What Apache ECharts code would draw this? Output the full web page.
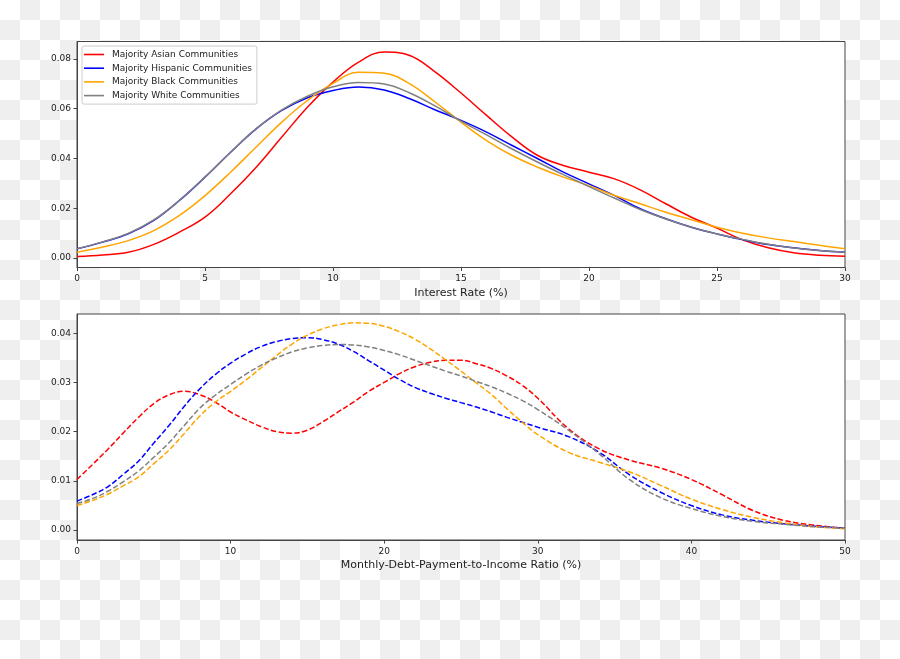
<!DOCTYPE html>
<html>
<head>
<meta charset="utf-8">
<script src="https://cdn.jsdelivr.net/npm/echarts@6/dist/echarts.min.js"></script>
<style>
  html, body { margin: 0; padding: 0; }
  body {
    width: 900px; height: 659px;
    background: repeating-conic-gradient(#efefef 0 25%, #ffffff 0 50%) 0 0 / 40px 40px;
  }
  #chart { width: 900px; height: 659px; }
</style>
</head>
<body>
<div id="chart"></div>
<script>
// ---- Data ----
const seriesNames = ['Majority Asian Communities', 'Majority Hispanic Communities', 'Majority Black Communities', 'Majority White Communities'];
const seriesColors = ['#ff0000', '#0000ff', '#ffa500', '#808080'];

const topTitle = 'Interest Rate (%)';
const bottomTitle = 'Monthly-Debt-Payment-to-Income Ratio (%)';

const topYTicks = [0, 0.02, 0.04, 0.06, 0.08];
const bottomYTicks = [0, 0.01, 0.02, 0.03, 0.04];
const topXTicks = [0, 5, 10, 15, 20, 25, 30];
const bottomXTicks = [0, 10, 20, 30, 40, 50];

const xTop = [0,1,2,3,4,5,6,7,8,9,10,11,12,13,14,15,16,17,18,19,20,21,22,23,24,25,26,27,28,29,30];
const topAsian    = [0.0006,0.0012,0.0023,0.0055,0.0104,0.0164,0.0258,0.0365,0.0486,0.0606,0.0707,0.0787,0.0828,0.0814,0.0747,0.0663,0.0573,0.0486,0.0412,0.0372,0.0345,0.0318,0.0274,0.0218,0.0164,0.0120,0.0073,0.0041,0.0021,0.0011,0.0007];
const topHispanic = [0.0037,0.0064,0.0097,0.0151,0.0231,0.0325,0.0425,0.0519,0.0593,0.0644,0.0673,0.0687,0.0675,0.0640,0.0595,0.0553,0.0506,0.0452,0.0399,0.0345,0.0298,0.0251,0.0198,0.0158,0.0124,0.0097,0.0074,0.0054,0.0041,0.0030,0.0023];
const topBlack    = [0.0023,0.0044,0.0070,0.0110,0.0171,0.0251,0.0345,0.0446,0.0546,0.0633,0.0702,0.0746,0.0742,0.0700,0.0626,0.0546,0.0472,0.0412,0.0365,0.0325,0.0291,0.0251,0.0218,0.0184,0.0154,0.0124,0.0100,0.0081,0.0066,0.0051,0.0037];
const topWhite    = [0.0037,0.0065,0.0099,0.0153,0.0232,0.0325,0.0425,0.0520,0.0595,0.0650,0.0688,0.0705,0.0699,0.0663,0.0610,0.0550,0.0495,0.0438,0.0385,0.0335,0.0287,0.0240,0.0195,0.0157,0.0124,0.0097,0.0075,0.0055,0.0040,0.0030,0.0023];

const xBottom = [0,1,2,3,4,5,6,7,8,9,10,11,12,13,14,15,16,17,18,19,20,21,22,23,24,25,26,27,28,29,30,32,34,36,38,40,42,44,46,48,50];
const bottomAsian    = [0.0103,0.0133,0.0164,0.0197,0.0229,0.0257,0.0275,0.0282,0.0275,0.0260,0.0240,0.0224,0.0210,0.0200,0.0197,0.0203,0.0220,0.0240,0.0260,0.0282,0.0300,0.0318,0.0332,0.0341,0.0345,0.0345,0.0338,0.0328,0.0313,0.0294,0.0268,0.0206,0.0165,0.0142,0.0126,0.0103,0.0072,0.0040,0.0020,0.0010,0.0004];
const bottomHispanic = [0.0059,0.0072,0.0088,0.0113,0.0140,0.0177,0.0213,0.0252,0.0287,0.0316,0.0339,0.0358,0.0373,0.0383,0.0389,0.0391,0.0387,0.0378,0.0363,0.0344,0.0325,0.0306,0.0290,0.0278,0.0268,0.0259,0.0250,0.0240,0.0229,0.0219,0.0209,0.0190,0.0158,0.0112,0.0077,0.0050,0.0031,0.0020,0.0013,0.0008,0.0004];
const bottomBlack    = [0.0050,0.0060,0.0073,0.0090,0.0108,0.0135,0.0163,0.0197,0.0232,0.0260,0.0282,0.0305,0.0330,0.0355,0.0378,0.0396,0.0409,0.0417,0.0421,0.0420,0.0414,0.0403,0.0388,0.0368,0.0346,0.0323,0.0299,0.0275,0.0246,0.0219,0.0194,0.0158,0.0138,0.0118,0.0091,0.0063,0.0042,0.0026,0.0015,0.0007,0.0003];
const bottomWhite    = [0.0054,0.0064,0.0079,0.0098,0.0120,0.0148,0.0178,0.0213,0.0248,0.0274,0.0296,0.0317,0.0335,0.0350,0.0362,0.0370,0.0375,0.0377,0.0376,0.0372,0.0365,0.0356,0.0345,0.0334,0.0323,0.0313,0.0302,0.0291,0.0278,0.0263,0.0245,0.0203,0.0155,0.0102,0.0066,0.0044,0.0028,0.0018,0.0012,0.0007,0.0004];

// ---- Build ----
const FONT = 'DejaVu Sans';
const TXT = '#222';
const AX = '#444';

const topData = [topAsian, topHispanic, topBlack, topWhite];
const bottomData = [bottomAsian, bottomHispanic, bottomBlack, bottomWhite];

function pairs(xs, ys) { return xs.map((x, i) => [x, ys[i]]); }

function xAxisCfg(gridIndex, min, max, interval, ticks, name) {
  return {
    type: 'value', gridIndex, min, max, interval,
    name, nameLocation: 'middle', nameGap: 20,
    nameTextStyle: { fontFamily: FONT, fontSize: 11, color: TXT },
    axisLine: { show: true, onZero: false, lineStyle: { color: AX, width: 1 } },
    axisTick: { show: true, inside: false, length: 3.5, customValues: ticks, lineStyle: { color: AX, width: 1 } },
    axisLabel: { fontFamily: FONT, fontSize: 9, color: TXT, margin: 7, customValues: ticks },
    splitLine: { show: false }
  };
}
function yAxisCfg(gridIndex, min, max, ticks) {
  return {
    type: 'value', gridIndex, min, max,
    axisLine: { show: true, onZero: false, lineStyle: { color: AX, width: 1 } },
    axisTick: { show: true, inside: false, length: 3.5, customValues: ticks, lineStyle: { color: AX, width: 1 } },
    axisLabel: { fontFamily: FONT, fontSize: 9, color: TXT, margin: 6, customValues: ticks,
                 formatter: v => v.toFixed(2) },
    splitLine: { show: false }
  };
}

const series = [];
seriesNames.forEach((name, i) => {
  series.push({
    name, type: 'line', xAxisIndex: 0, yAxisIndex: 0,
    data: pairs(xTop, topData[i]), smooth: 0.4, symbol: 'none',
    lineStyle: { color: seriesColors[i], width: 1.5 },
    itemStyle: { color: seriesColors[i] }, z: 2 + i
  });
});
seriesNames.forEach((name, i) => {
  series.push({
    name: name + ' ', type: 'line', xAxisIndex: 1, yAxisIndex: 1,
    data: pairs(xBottom, bottomData[i]), smooth: 0.4, symbol: 'none',
    lineStyle: { color: seriesColors[i], width: 1.5, type: [5.5, 2.4] },
    itemStyle: { color: seriesColors[i] }, z: 2 + i
  });
});

const chart = echarts.init(document.getElementById('chart'), null, { renderer: 'canvas' });
chart.setOption({
  backgroundColor: 'transparent',
  animation: false,
  grid: [
    { left: 77, top: 41.5, width: 768, height: 226, show: true, backgroundColor: '#fff', borderColor: AX, borderWidth: 1, containLabel: false },
    { left: 77, top: 314, width: 768, height: 226, show: true, backgroundColor: '#fff', borderColor: AX, borderWidth: 1, containLabel: false }
  ],
  xAxis: [
    xAxisCfg(0, 0, 30, 5, topXTicks, topTitle),
    xAxisCfg(1, 0, 50, 10, bottomXTicks, bottomTitle)
  ],
  yAxis: [
    yAxisCfg(0, -0.0038, 0.087, topYTicks),
    yAxisCfg(1, -0.002, 0.0439, bottomYTicks)
  ],
  legend: {
    data: seriesNames,
    orient: 'vertical',
    left: 82, top: 46,
    padding: [3, 5, 3, 2],
    icon: 'rect',
    itemWidth: 20, itemHeight: 1.6, itemGap: 2.7,
    backgroundColor: '#fff',
    borderColor: '#cccccc', borderWidth: 1, borderRadius: 2,
    textStyle: { fontFamily: FONT, fontSize: 9, color: TXT, lineHeight: 11, padding: [0, 0, 0, 3] }
  },
  series
});
</script>
</body>
</html>
